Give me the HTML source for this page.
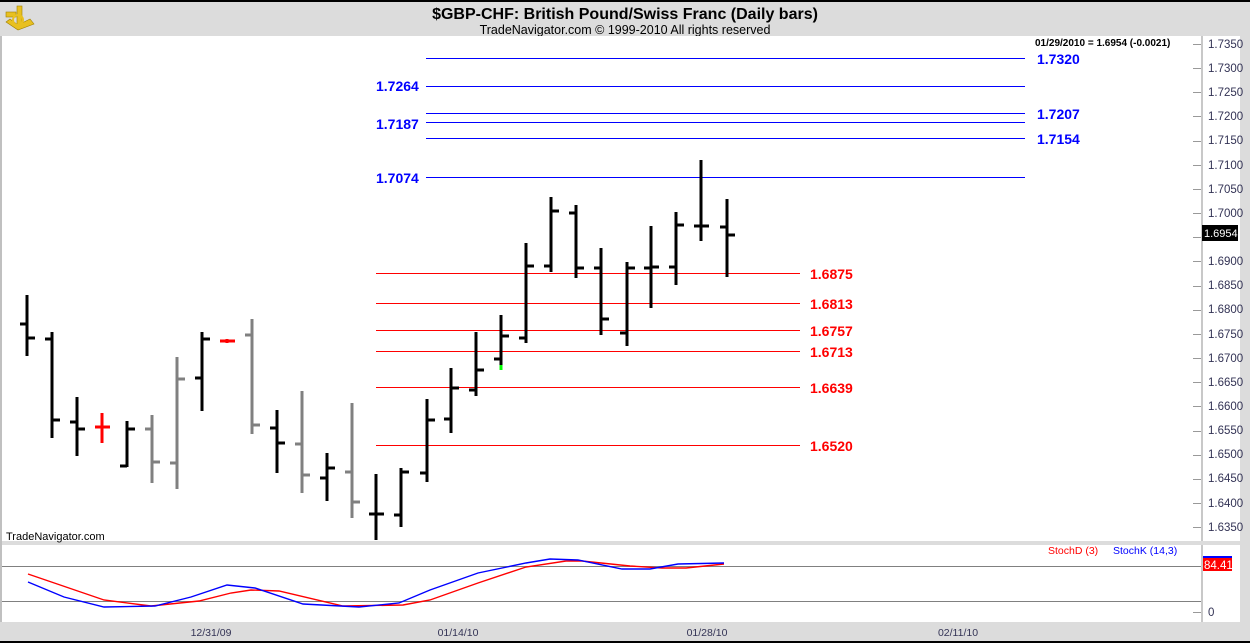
<!DOCTYPE html>
<html><head><meta charset="utf-8"><style>
html,body{margin:0;padding:0;background:#dcdcdc;}
svg{display:block;font-family:"Liberation Sans",Arial,sans-serif;}
.c{shape-rendering:crispEdges;}
</style></head><body>
<svg width="1250" height="643" viewBox="0 0 1250 643" xmlns="http://www.w3.org/2000/svg">
<rect x="0" y="0" width="1250" height="643" fill="#dcdcdc"/>
<rect x="0" y="0" width="1250" height="2" fill="#000"/>
<rect x="0" y="641" width="1250" height="2" fill="#000"/>
<g fill="#e8c020" stroke="#a08000" stroke-width="0.6">
<rect x="17" y="6" width="5" height="20"/><rect x="6" y="12" width="10" height="5"/>
<path d="M6 22 L18 30 L34 24 L30 19 L18 25 L10 19 Z"/><circle cx="18" cy="20" r="5" fill="none" stroke="#e8c020" stroke-width="2"/>
</g>
<text x="625" y="19" text-anchor="middle" font-size="16" font-weight="bold" fill="#000">$GBP-CHF:  British Pound/Swiss Franc  (Daily bars)</text>
<text x="625" y="34" text-anchor="middle" font-size="12.5" fill="#000">TradeNavigator.com © 1999-2010 All rights reserved</text>
<rect x="2" y="36" width="1238" height="505" fill="#fff"/>
<rect x="2" y="545" width="1238" height="77" fill="#fff"/>
<rect x="0" y="36" width="2" height="586" fill="#c0c0c0"/>
<rect x="1201" y="36" width="2" height="505" fill="#c8c8c8"/>
<rect x="1201" y="545" width="2" height="77" fill="#c8c8c8"/>
<rect x="2" y="541" width="1238" height="4" fill="#dcdcdc"/>
<rect x="1240" y="36" width="10" height="586" fill="#dcdcdc"/>
<g font-size="11.5" fill="#333355">
<text x="1208" y="48">1.7350</text><text x="1208" y="72">1.7300</text><text x="1208" y="96">1.7250</text><text x="1208" y="120">1.7200</text><text x="1208" y="144">1.7150</text><text x="1208" y="169">1.7100</text><text x="1208" y="193">1.7050</text><text x="1208" y="217">1.7000</text><text x="1208" y="265">1.6900</text><text x="1208" y="289">1.6850</text><text x="1208" y="313">1.6800</text><text x="1208" y="338">1.6750</text><text x="1208" y="362">1.6700</text><text x="1208" y="386">1.6650</text><text x="1208" y="410">1.6600</text><text x="1208" y="434">1.6550</text><text x="1208" y="458">1.6500</text><text x="1208" y="482">1.6450</text><text x="1208" y="507">1.6400</text><text x="1208" y="531">1.6350</text>
<text x="1208" y="616">0</text>
</g>
<g stroke="#999" stroke-width="1" class="c">
<path d="M1193 44.5h8M1193 68.5h8M1193 92.5h8M1193 116.5h8M1193 141.5h8M1193 165.5h8M1193 189.5h8M1193 213.5h8M1193 237.5h8M1193 261.5h8M1193 286.5h8M1193 310.5h8M1193 334.5h8M1193 358.5h8M1193 382.5h8M1193 406.5h8M1193 431.5h8M1193 455.5h8M1193 479.5h8M1193 503.5h8M1193 527.5h8M1193 612.5h8M1193 566.5h8"/>
</g>
<rect x="1202" y="225" width="36" height="16" fill="#000"/>
<text x="1204" y="237" font-size="11" fill="#fff">1.6954</text>
<text x="1035" y="46" font-size="10" font-weight="bold" fill="#000">01/29/2010 = 1.6954 (-0.0021)</text>
<g stroke="#0000ff" stroke-width="1" class="c">
<path d="M426 58.5h599M426 86.5h599M426 113.5h599M426 122.5h599M426 138.5h599M426 177.5h599"/>
</g>
<g font-size="14" font-weight="bold" fill="#0000ff">
<text x="376" y="91">1.7264</text><text x="376" y="129">1.7187</text><text x="376" y="183">1.7074</text>
<text x="1037" y="64">1.7320</text><text x="1037" y="119">1.7207</text><text x="1037" y="144">1.7154</text>
</g>
<g stroke="#ff0000" stroke-width="1" class="c">
<path d="M376 273.5h424M376 303.5h424M376 330.5h424M376 351.5h424M376 387.5h424M376 445.5h424"/>
</g>
<g font-size="14" font-weight="bold" fill="#ff0000">
<text x="810" y="279">1.6875</text><text x="810" y="309">1.6813</text><text x="810" y="336">1.6757</text><text x="810" y="357">1.6713</text><text x="810" y="393">1.6639</text><text x="810" y="451">1.6520</text>
</g>
<g stroke-width="3" fill="none" class="c">
<path stroke="#000" d="M27 295V356M20 324h7M27 338h8"/>
<path stroke="#000" d="M52 332V438M45 339h7M52 420h8"/>
<path stroke="#000" d="M77 397V456M70 422h7M77 429h8"/>
<path stroke="#f00" d="M102 413V443M95 427h15"/>
<path stroke="#000" d="M127 421V467M120 466h7M127 429h8"/>
<path stroke="#808080" d="M152 415V483M145 429h7M152 462h8"/>
<path stroke="#808080" d="M177 357V489M170 463h7M177 379h8"/>
<path stroke="#000" d="M202 332V411M195 378h7M202 339h8"/>
<path stroke="#f00" d="M227 339V343M220 341h15"/>
<path stroke="#808080" d="M252 319V434M245 335h7M252 425h8"/>
<path stroke="#000" d="M277 410V473M270 428h7M277 443h8"/>
<path stroke="#808080" d="M302 391V493M295 444h7M302 475h8"/>
<path stroke="#000" d="M327 453V501M320 478h7M327 468h8"/>
<path stroke="#808080" d="M352 403V518M345 472h7M352 502h8"/>
<path stroke="#000" d="M376 474V540M369 514h15"/>
<path stroke="#000" d="M401 468V527M394 515h7M401 472h8"/>
<path stroke="#000" d="M427 399V482M420 473h7M427 420h8"/>
<path stroke="#000" d="M451 368V433M444 419h7M451 388h8"/>
<path stroke="#000" d="M476 332V396M469 390h7M476 370h8"/>
<path stroke="#000" d="M501 315V365M494 359h7M501 336h8"/>
<path stroke="#0f0" d="M501 365V370"/>
<path stroke="#000" d="M526 243V343M519 338h7M526 266h8"/>
<path stroke="#000" d="M551 197V272M544 266h7M551 211h8"/>
<path stroke="#000" d="M576 205V278M569 213h7M576 268h8"/>
<path stroke="#000" d="M601 248V335M594 268h7M601 319h8"/>
<path stroke="#000" d="M627 262V346M620 333h7M627 268h8"/>
<path stroke="#000" d="M651 226V308M644 268h7M651 267h8"/>
<path stroke="#000" d="M676 212V285M669 267h7M676 225h8"/>
<path stroke="#000" d="M701 160V241M694 226h15"/>
<path stroke="#000" d="M727 199V277M720 227h7M727 235h8"/>
</g>
<text x="6" y="540" font-size="11" fill="#000">TradeNavigator.com</text>
<path d="M2 566.5h1199M2 601.5h1199" stroke="#808080" stroke-width="1" class="c"/>
<text x="1048" y="554" font-size="10.5" fill="#ff0000">StochD (3)</text>
<text x="1113" y="554" font-size="10.5" fill="#0000ff">StochK (14,3)</text>
<polyline fill="none" stroke="#ff0000" stroke-width="1.4" points="28,574 104,600 151,606 199,601 231,593 251,590 279,591 343,606 403,605 430,600 478,583 526,567 566,561 582,561 630,566 662,568 686,568 724,564"/>
<polyline fill="none" stroke="#0000ff" stroke-width="1.4" points="28,582 64,597 104,607 155,606 191,597 227,585 255,588 303,604 359,607 399,603 430,590 478,573 526,563 550,559 578,560 622,569 650,569 678,564 724,563"/>
<rect x="1203" y="556" width="29" height="15" fill="#ff0000"/>
<rect x="1203" y="556" width="29" height="2" fill="#0000ff"/>
<text x="1204" y="569" font-size="11.5" fill="#fff">84.41</text>
<g font-size="10.5" fill="#333355" text-anchor="middle">
<text x="211" y="636">12/31/09</text><text x="458" y="636">01/14/10</text><text x="707" y="636">01/28/10</text><text x="958" y="636">02/11/10</text>
</g>
</svg>
</body></html>
